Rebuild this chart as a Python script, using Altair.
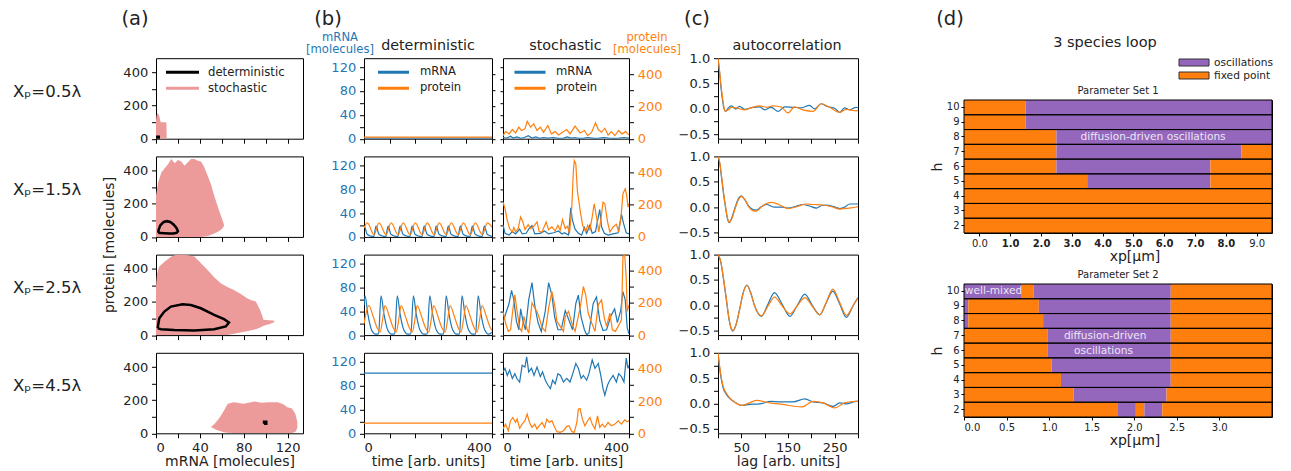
import altair as alt
import pandas as pd

FONT = "DejaVu Sans"
TXT = "#222222"
BLUE = "#1f77b4"
ORANGE = "#ff7f0e"
PURPLE = "#9467bd"
PINK = "#ec9a9a"
ANNO = "#ece6f4"

# ------------------------------------------------------------------ data
row_labels = ["Xₚ=0.5λ", "Xₚ=1.5λ", "Xₚ=2.5λ", "Xₚ=4.5λ"]

# (a) stochastic clouds (mRNA, upper protein, lower protein)
cloud1_mrna = [0, 0.5, 1.5, 2.5, 3.5, 4, 4.5, 8, 9.5, 9.7]
cloud1_hi = [110, 140, 155, 145, 125, 105, 100, 100, 98, 20]
cloud1_lo = [0, 0, 0, 0, 0, 0, 0, 0, 0, 0]
cloud2_mrna = [0, 2, 5, 8, 11, 14, 17, 20, 23, 26, 29, 32, 35, 38, 41, 44, 47, 50, 53, 56, 59, 61, 62]
cloud2_hi = [250, 330, 390, 415, 440, 470, 445, 465, 455, 430, 450, 470, 470, 460, 455, 420, 370, 320, 250, 190, 130, 95, 70]
cloud2_lo = [0, 0, 0, 0, 0, 0, 0, 0, 0, 0, 0, 0, 0, 0, 0, 2, 6, 12, 20, 30, 42, 55, 68]
cloud3_mrna = [0, 1, 3, 8, 14, 20, 25, 29, 35, 41, 47, 53, 59, 65, 71, 77, 83, 87, 91, 95, 98, 103, 107, 108]
cloud3_hi = [300, 373, 414, 444, 474, 488, 485, 482, 474, 434, 393, 350, 313, 290, 273, 250, 222, 210, 203, 150, 92, 90, 88, 82]
cloud3_lo = [0, 0, 0, 0, 0, 0, 0, 0, 0, 0, 0, 0, 0, 0, 8, 16, 24, 30, 36, 46, 56, 66, 76, 80]
cloud4_mrna = [50, 53, 56, 59, 62, 65.4, 71, 80, 89.7, 96, 102, 111, 116, 119.7, 124, 127, 128.8]
cloud4_hi = [38, 55, 78, 105, 138, 178, 188, 178, 192, 185, 188, 188, 175, 158, 150, 118, 70]
cloud4_lo = [38, 28, 18, 12, 6, 3, 2, 2, 2, 2, 2, 2, 2, 2, 2, 8, 30]

# (a) deterministic trajectories
loop1_mrna = [0.3, 2.5, 2.5, 0.3, 0.3]
loop1_prot = [2, 2, 12, 12, 2]
loop2_mrna = [2, 2.5, 4, 7, 10, 13, 16, 18.5, 20, 19, 16, 12, 8, 4, 2]
loop2_prot = [25, 45, 70, 90, 95, 90, 75, 55, 35, 25, 20, 20, 22, 24, 25]
loop3_mrna = [1.5, 3, 7.6, 13.6, 24.2, 31.8, 40.9, 53, 62, 66.5, 63.6, 53, 34.8, 16.7, 4.5, 1.5]
loop3_prot = [42, 102, 142, 172, 186, 182, 162, 122, 96, 76, 52, 36, 28, 31, 36, 42]
loop4_mrna = [98.5, 100.5, 100.5, 98.5, 98.5]
loop4_prot = [58, 58, 70, 70, 58]

# (b) deterministic time series
det1_t = [0, 500]
det1_mrna = [1, 1]
det1_prot = [10, 10]
det2_tm = [0, 1, 13, 38, 47, 59, 85, 94, 106, 132, 141, 153, 179, 188, 200, 226, 235, 247, 273, 282,
           294, 320, 329, 341, 367, 376, 388, 414, 423, 435, 461, 470, 482, 500]
det2_mrna = [16, 18, 4, 0.5, 18, 4, 0.5, 18, 4, 0.5, 18, 4, 0.5, 18, 4, 0.5, 18, 4, 0.5, 18,
             4, 0.5, 18, 4, 0.5, 18, 4, 0.5, 18, 4, 0.5, 18, 4, 1]
det2_tp = [0, 13, 39, 59, 86, 106, 133, 153, 180, 200, 227, 247, 274, 294, 321, 341, 368, 388, 415, 435, 462, 482, 500]
det2_prot = [55, 87, 14, 87, 14, 87, 14, 87, 14, 87, 14, 87, 14, 87, 14, 87, 14, 87, 14, 87, 14, 87, 60]
det3_tm = [0, 4, 15, 30, 45, 57, 66.5, 78, 93, 108, 120, 130, 141, 156, 171, 183, 193, 204, 219, 234,
           247, 257, 268, 283, 298, 311, 321, 332, 347, 362, 373, 383, 394, 409, 424, 436, 446, 457, 472, 487, 500]
det3_mrna = [50, 66, 35, 8, 1.5, 2, 66, 35, 8, 1.5, 2, 66, 35, 8, 1.5, 2, 66, 35, 8, 1.5,
             2, 66, 35, 8, 1.5, 2, 66, 35, 8, 1.5, 2, 66, 35, 8, 1.5, 2, 66, 35, 8, 1.5, 5]
det3_tp = [0, 10, 19, 35, 50, 63, 73, 82, 98, 113, 126, 136, 145, 161, 176, 189, 199, 208, 224, 239,
           253, 263, 272, 288, 303, 317, 327, 336, 352, 367, 379, 389, 398, 414, 429, 442, 452, 461, 477, 492, 500]
det3_prot = [70, 150, 184, 120, 50, 19, 100, 184, 120, 50, 19, 100, 184, 120, 50, 19, 100, 184, 120, 50,
             19, 100, 184, 120, 50, 19, 100, 184, 120, 50, 19, 100, 184, 120, 50, 19, 100, 184, 120, 50, 30]
det4_t = [0, 500]
det4_mrna = [101, 101]
det4_prot = [63, 63]

# (b) stochastic time series
sto1_tm = [0, 15, 30, 40, 55, 70, 85, 100, 115, 130, 145, 160, 180, 200, 220, 240, 255, 270, 285, 300,
           320, 340, 360, 380, 400, 420, 440, 460, 480, 500]
sto1_mrna = [2, 1, 4, 1, 3, 0.5, 2, 5, 1, 3, 0.5, 2, 1, 2, 0.5, 1, 3, 1, 2, 0.5,
             1, 2, 0.5, 1, 2, 1, 0.5, 1, 2, 1]
sto1_tp = [0, 10, 24, 37, 50, 63, 73, 87, 96, 109, 122, 135, 148, 161, 178, 192, 207, 220, 236, 253,
           266, 286, 306, 323, 336, 352, 367, 378, 391, 404, 417, 430, 444, 459, 472, 487, 500]
sto1_prot = [19, 44, 30, 57, 36, 72, 51, 61, 108, 72, 93, 51, 72, 40, 82, 30, 44, 23, 40, 57,
             30, 78, 36, 51, 19, 40, 99, 57, 40, 65, 23, 44, 19, 51, 30, 44, 23]
sto2_tm = [0, 8, 24, 37, 50, 66, 76, 92, 105, 115, 126, 148, 165, 181, 201, 220, 234, 244, 260, 269,
           275, 286, 299, 312, 323, 332, 345, 354, 367, 384, 391, 402, 417, 437, 457, 470, 478, 489, 500]
sto2_mrna = [20, 6, 3, 9, 5, 13, 5, 6, 15, 19, 5, 6, 10, 5, 7, 10, 5, 7, 3, 49,
             29, 13, 6, 3, 16, 6, 20, 6, 9, 46, 17, 6, 3, 5, 7, 38, 23, 7, 5]
sto2_tp = [0, 8, 17, 26, 37, 43, 50, 60, 70, 79, 87, 100, 109, 122, 135, 144, 155, 171, 181, 194,
           207, 218, 227, 236, 247, 256, 264, 273, 279, 283, 289, 295, 306, 316, 328, 336, 345, 354, 362, 371,
           380, 388, 397, 404, 415, 424, 437, 450, 459, 467, 476, 485, 491, 496, 500]
sto2_prot = [216, 175, 103, 52, 31, 58, 31, 52, 124, 93, 45, 76, 52, 66, 93, 31, 31, 93, 45, 62,
             37, 72, 41, 107, 52, 66, 21, 185, 402, 474, 453, 288, 165, 72, 31, 72, 45, 124, 206, 124,
             31, 103, 216, 206, 93, 31, 62, 78, 31, 103, 268, 299, 258, 185, 206]
sto3_tm = [0, 10, 24, 34, 43, 53, 63, 70, 79, 89, 102, 115, 126, 139, 152, 168, 181, 194, 205, 218,
           231, 247, 260, 276, 289, 299, 310, 323, 332, 341, 358, 371, 384, 397, 411, 428, 443, 454, 467, 476,
           485, 493, 500]
sto3_mrna = [21, 35, 53, 75, 59, 24, 9, 44, 24, 9, 59, 88, 50, 21, 6, 41, 88, 67, 30, 9,
             9, 41, 27, 9, 53, 67, 30, 9, 0.6, 3.5, 53, 64, 24, 7.5, 9, 32, 44, 21, 41, 73,
             59, 12, 2]
sto3_tp = [0, 10, 21, 30, 39, 47, 56, 66, 74, 83, 92, 102, 115, 126, 135, 144, 155, 168, 181, 194,
           205, 214, 227, 240, 247, 260, 273, 286, 306, 319, 328, 338, 352, 365, 378, 391, 402, 411, 424, 434,
           446, 457, 470, 476, 483, 489, 493, 500]
sto3_prot = [147, 75, 23, 33, 157, 250, 147, 43, 23, 116, 54, 12, 199, 168, 147, 106, 48, 23, 168, 271,
             188, 85, 54, 23, 116, 147, 75, 23, 168, 302, 250, 137, 75, 23, 188, 219, 106, 54, 137, 33,
             23, 54, 95, 488, 499, 354, 147, 188]
sto4_tm = [0, 8, 17, 26, 37, 47, 56, 66, 76, 87, 94, 102, 113, 123, 135, 148, 157, 168, 178, 188,
           197, 207, 218, 228, 240, 253, 266, 279, 289, 299, 310, 319, 332, 341, 354, 365, 378, 388, 397, 404,
           415, 424, 437, 450, 459, 470, 480, 489, 496, 500]
sto4_mrna = [103, 109, 97, 106, 92, 100, 91, 86, 114, 111, 128, 103, 109, 97, 111, 95, 103, 89, 81, 75,
             89, 83, 100, 97, 86, 92, 86, 103, 117, 109, 92, 97, 89, 100, 123, 109, 117, 97, 75, 64,
             81, 89, 97, 86, 100, 95, 86, 126, 109, 114]
sto4_tp = [0, 10, 21, 30, 39, 50, 56, 66, 76, 87, 96, 105, 115, 126, 135, 144, 155, 165, 174, 184,
           194, 205, 214, 227, 240, 253, 262, 273, 283, 293, 299, 306, 315, 325, 336, 345, 354, 365, 375, 384,
           394, 404, 417, 430, 444, 457, 470, 483, 493, 500]
sto4_prot = [27, 57, 16, 78, 98, 67, 88, 31, 57, 78, 119, 67, 37, 57, 27, 47, 67, 37, 88, 67,
             78, 37, 10, 6, 16, 43, 47, 10, 6, 67, 149, 153, 88, 47, 78, 98, 57, 27, 108, 37,
             57, 37, 67, 47, 57, 78, 57, 84, 72, 78]

# (c) autocorrelation
ac1_lag_m = [0, 3, 6, 10, 13, 16, 22, 29, 38, 46, 57, 75, 89, 100, 114, 129, 143, 161, 179, 196,
             207, 221, 236, 250, 261, 271, 282, 296, 300]
ac1_m = [1, 0.75, 0.45, 0.15, 0, -0.05, 0.02, 0.06, -0.005, 0.05, -0.01, 0.03, 0.04, -0.02, 0.03, -0.05, 0.04, 0.03, 0.02, 0.07,
         0, 0.1, 0.04, 0.01, -0.07, 0.02, -0.02, 0.03, 0.02]
ac1_lag_p = [0, 3, 6, 10, 13, 16, 22, 29, 43, 57, 71, 89, 104, 118, 136, 150, 164, 182, 204, 221,
             239, 261, 275, 296, 300]
ac1_p = [1, 0.78, 0.5, 0.2, 0.02, -0.05, -0.02, 0.03, 0.01, -0.02, 0.02, 0.06, 0.03, 0.06, 0.03, -0.08, 0.04, -0.02, -0.05, 0.1,
         0.03, -0.07, -0.01, -0.04, -0.03]
ac2_lag_m = [0, 4, 8, 12, 16, 20, 24, 30, 37, 44, 50, 57, 65, 73, 82, 92, 104, 120, 135, 150,
             166, 182, 196, 211, 222, 232, 247, 261, 272, 282, 296, 300]
ac2_m = [1, 0.85, 0.55, 0.25, 0, -0.22, -0.31, -0.2, 0, 0.17, 0.22, 0.15, 0.03, -0.04, -0.06, 0, 0.05, 0, 0, -0.02,
         0.01, 0.05, 0.02, -0.02, 0.03, 0.04, 0.01, -0.03, 0, 0.06, 0.06, 0.06]
ac2_lag_p = [0, 4, 8, 12, 16, 20, 24, 30, 37, 44, 51, 58, 66, 74, 82, 95, 114, 130, 150, 170,
             189, 205, 225, 245, 261, 280, 296, 300]
ac2_p = [1, 0.87, 0.58, 0.28, 0.02, -0.2, -0.3, -0.22, -0.02, 0.15, 0.21, 0.14, 0, -0.07, -0.08, 0.02, 0.09, 0.05, -0.03, 0.01,
         0.06, 0.05, 0.04, 0, -0.04, -0.02, 0, 0.01]
ac3_lag = [0, 6, 12, 18, 24, 28, 32, 38, 47, 54, 62, 70, 78, 93, 107, 121, 138, 154, 170, 186,
           202, 218, 232, 246, 261, 275, 290, 300]
ac3_m = [1, 0.85, 0.5, 0.1, -0.3, -0.46, -0.51, -0.4, -0.05, 0.25, 0.4, 0.25, 0, -0.22, 0.02, 0.25, 0.01, -0.22, 0, 0.22,
         0, -0.19, 0.05, 0.28, 0.02, -0.24, 0, 0.15]
ac3_p = [1, 0.86, 0.52, 0.12, -0.28, -0.45, -0.5, -0.4, -0.06, 0.24, 0.39, 0.24, 0, -0.21, -0.02, 0.16, -0.02, -0.17, -0.01, 0.15,
         -0.02, -0.19, 0.06, 0.32, 0.05, -0.2, 0, 0.15]
ac4_lag_m = [0, 5, 11, 18, 25, 35, 50, 68, 89, 114, 132, 161, 186, 204, 225, 246, 261, 275, 296, 300]
ac4_m = [1, 0.6, 0.31, 0.18, 0.1, 0.03, -0.04, -0.02, -0.01, 0.04, 0.03, 0.03, 0.09, 0.03, 0.01, -0.06, 0.01, -0.01, 0.04, 0.04]
ac4_lag_p = [0, 5, 11, 18, 25, 35, 50, 65, 82, 111, 139, 179, 204, 225, 250, 271, 296, 300]
ac4_p = [1, 0.63, 0.34, 0.2, 0.11, 0.03, -0.04, 0, 0.06, 0.01, -0.02, -0.07, 0.04, 0.01, -0.09, 0.01, 0.04, 0.04]

# (d) phase diagrams: row h, segment start, segment end, state
states = ["oscillations", "fixed point"]
ps1_h = [10, 10, 9, 9, 8, 8, 7, 7, 7, 6, 6, 6, 5, 5, 5, 4, 3, 2]
ps1_x0 = [-0.5, 1.5, -0.5, 1.5, -0.5, 2.5, -0.5, 2.5, 8.5, -0.5, 2.5, 7.5, -0.5, 3.5, 7.5, -0.5, -0.5, -0.5]
ps1_x1 = [1.5, 9.5, 1.5, 9.5, 2.5, 9.5, 2.5, 8.5, 9.5, 2.5, 7.5, 9.5, 3.5, 7.5, 9.5, 9.5, 9.5, 9.5]
ps1_state = ["fixed point", "oscillations", "fixed point", "oscillations", "fixed point", "oscillations",
             "fixed point", "oscillations", "fixed point", "fixed point", "oscillations", "fixed point",
             "fixed point", "oscillations", "fixed point", "fixed point", "fixed point", "fixed point"]
ps1_ticks = [0, 1, 2, 3, 4, 5, 6, 7, 8, 9]
ps1_range = [-0.5, 9.5]

ps2_h = [10, 10, 10, 10, 9, 9, 9, 9, 8, 8, 8, 8, 7, 7, 7, 6, 6, 6, 5, 5, 5, 4, 4, 4, 3, 3, 3, 2, 2, 2, 2, 2]
ps2_x0 = [0, 0.67, 0.82, 2.43, 0, 0.05, 0.88, 2.43, 0, 0.05, 0.93, 2.43, 0, 0.98, 2.43, 0, 0.98, 2.43,
          0, 1.03, 2.43, 0, 1.14, 2.43, 0, 1.29, 2.38, 0, 1.81, 2.02, 2.12, 2.33]
ps2_x1 = [0.67, 0.82, 2.43, 3.62, 0.05, 0.88, 2.43, 3.62, 0.05, 0.93, 2.43, 3.62, 0.98, 2.43, 3.62, 0.98, 2.43, 3.62,
          1.03, 2.43, 3.62, 1.14, 2.43, 3.62, 1.29, 2.38, 3.62, 1.81, 2.02, 2.12, 2.33, 3.62]
ps2_state = ["oscillations", "fixed point", "oscillations", "fixed point",
             "oscillations", "fixed point", "oscillations", "fixed point",
             "oscillations", "fixed point", "oscillations", "fixed point",
             "fixed point", "oscillations", "fixed point",
             "fixed point", "oscillations", "fixed point",
             "fixed point", "oscillations", "fixed point",
             "fixed point", "oscillations", "fixed point",
             "fixed point", "oscillations", "fixed point",
             "fixed point", "oscillations", "fixed point", "oscillations", "fixed point"]
ps2_ticks = [0, 0.5, 1.0, 1.5, 2.0, 2.5, 3.0]
ps2_range = [0, 3.62]

ps1_notes = [("diffusion-driven oscillations", 5.64, 8, "center")]
ps2_notes = [("well-mixed", 0.01, 10, "left"), ("diffusion-driven", 1.66, 7, "center"), ("oscillations", 1.64, 6, "center")]

# ------------------------------------------------------------------ layout
PW_A, PW_B, PW_S, PW_C, PW_D = 147, 128, 126, 140, 308
PH, VS, HEAD_H = 80.5, 17.2, 31
HEAT_H, HEAD_D, VS_D = 133, 39, 51
W0 = 112
# column origins (from the chart's left edge) reached through spacer widths
GAPS = [147, 208, 139, 215, 246]

one = pd.DataFrame({"k": [0]})
NOSTROKE = alt.ViewBackground(stroke="transparent")


def txt(s, x, y, size, color=TXT, align="center", baseline="alphabetic", angle=None):
    kw = dict(text=s, fontSize=size, color=color, align=align, baseline=baseline, font=FONT)
    if angle is not None:
        kw["angle"] = angle
    return alt.Chart(one).mark_text(**kw).encode(x=alt.value(x), y=alt.value(y))


def header(width, height, items):
    return alt.layer(*items).properties(width=width, height=height, view=NOSTROKE)


def spacer(w, h=30):
    return alt.Chart(one).mark_text(text="").properties(width=w, height=h, view=NOSTROKE)


def line_legend(x, y, offset, size, fs):
    return alt.Legend(orient="none", legendX=x, legendY=y, title=None, symbolType="stroke", symbolSize=size,
                      symbolStrokeWidth=3, labelFontSize=fs, labelFont=FONT, labelColor=TXT, labelOffset=offset,
                      clipHeight=15.6, rowPadding=0, padding=0)


# ---------------- label column
lab_df = pd.DataFrame({"row": [0, 1, 2, 3], "label": row_labels})
H_L = 4 * PH + 3 * VS
lab_text = alt.Chart(lab_df).mark_text(align="left", baseline="middle", fontSize=16.5, dy=-6, color=TXT).encode(
    x=alt.value(4),
    y=alt.Y("row:O", axis=None, scale=alt.Scale(type="point", padding=(PH / 2) / (PH + VS))),
    text="label:N")
prot_title = txt("protein [molecules]", 101, H_L / 2, 14, baseline="middle", angle=270)
labels_chart = alt.layer(lab_text, prot_title).properties(width=W0, height=H_L, view=NOSTROKE)
col_label = alt.vconcat(spacer(W0, HEAD_H), labels_chart, spacing=VS, bounds="flush")

# ---------------- (a)
XA = alt.Scale(domain=[0, 134], nice=False, zero=False)
YA = alt.Scale(domain=[0, 486], nice=False, zero=False)
clouds = [(cloud1_mrna, cloud1_hi, cloud1_lo), (cloud2_mrna, cloud2_hi, cloud2_lo),
          (cloud3_mrna, cloud3_hi, cloud3_lo), (cloud4_mrna, cloud4_hi, cloud4_lo)]
loops = [(loop1_mrna, loop1_prot), (loop2_mrna, loop2_prot), (loop3_mrna, loop3_prot), (loop4_mrna, loop4_prot)]


def axis_xa(last):
    return alt.Axis(values=[0, 20, 40, 60, 80, 100, 120], labelExpr="datum.value % 40 == 0 ? datum.label : ''",
                    labels=last, title="mRNA [molecules]" if last else None, titlePadding=0)


def axis_ya():
    return alt.Axis(values=[0, 100, 200, 300, 400], labelExpr="datum.value % 200 == 0 ? datum.label : ''", title=None)


def panel_a(r):
    m, hi, lo = clouds[r]
    cdf = pd.DataFrame({"mrna": m, "hi": hi, "lo": lo})
    lm, lp = loops[r]
    ldf = pd.DataFrame({"mrna": lm, "protein": lp, "i": list(range(len(lm))), "kind": ["deterministic"] * len(lm)})
    leg = line_legend(8.5, 6.2, 7.5, 1089, 11.7) if r == 0 else None
    area = alt.Chart(cdf).mark_area(color=PINK, clip=True).encode(
        x=alt.X("mrna:Q", scale=XA, axis=axis_xa(r == 3)),
        y=alt.Y("hi:Q", scale=YA, axis=axis_ya()),
        y2="lo:Q")
    loop = alt.Chart(ldf).mark_line(strokeWidth=2.5, clip=True).encode(
        x=alt.X("mrna:Q", scale=XA, axis=axis_xa(r == 3)),
        y=alt.Y("protein:Q", scale=YA, axis=axis_ya()),
        order=alt.Order("i:Q"),
        color=alt.Color("kind:N", scale=alt.Scale(domain=["deterministic", "stochastic"], range=["black", PINK]),
                        legend=leg))
    return alt.layer(area, loop).properties(width=PW_A, height=PH)


head_a = header(PW_A, HEAD_H, [txt("(a)", -21, 0, 19.5, baseline="top")])
col_a = alt.vconcat(head_a, *[panel_a(r) for r in range(4)], spacing=VS, bounds="flush").resolve_legend(
    color="independent")

# ---------------- (b)
XB = alt.Scale(domain=[0, 500], nice=False, zero=False)
YM = alt.Scale(domain=[0, 135], nice=False, zero=False)
YP = alt.Scale(domain=[0, 500], nice=False, zero=False)
MV = [0, 20, 40, 60, 80, 100, 120]
PV = [0, 100, 200, 300, 400]


def axis_xb(last):
    return alt.Axis(values=[0, 100, 200, 300, 400, 500],
                    labelExpr="datum.value == 0 || datum.value == 400 ? datum.label : ''",
                    labelAlign="left", labels=last, title="time [arb. units]" if last else None, titlePadding=0)


def panel_b(r, tm, vm, tp, vp, stoch):
    dm = pd.DataFrame({"t": tm, "v": vm, "series": ["mRNA"] * len(tm)})
    dp = pd.DataFrame({"t": tp, "v": vp, "series": ["protein"] * len(tp)})
    if r == 0:
        leg = line_legend(10 if stoch else 12.5, 6.2, 9 if stoch else 9.5, 961, 11.6)
    else:
        leg = None
    col = alt.Color("series:N", scale=alt.Scale(domain=["mRNA", "protein"], range=[BLUE, ORANGE]), legend=leg)
    interp = "linear" if stoch else "monotone"
    if stoch:
        ax_m = alt.Axis(values=MV, labels=False, title=None, orient="left", tickSize=3)
        ax_p = alt.Axis(values=PV, labelExpr="datum.value % 200 == 0 ? datum.label : ''", labelColor=ORANGE,
                        title=None, orient="right")
    else:
        ax_m = alt.Axis(values=MV, labelExpr="datum.value % 40 == 0 ? datum.label : ''", labelColor=BLUE,
                        title=None, orient="left")
        ax_p = alt.Axis(values=PV, labels=False, title=None, orient="right", tickSize=3)
    lm = alt.Chart(dm).mark_line(strokeWidth=1.2, interpolate=interp, clip=True).encode(
        x=alt.X("t:Q", scale=XB, axis=axis_xb(r == 3)), y=alt.Y("v:Q", scale=YM, axis=ax_m), color=col)
    lp = alt.Chart(dp).mark_line(strokeWidth=1.2, interpolate=interp, clip=True).encode(
        x=alt.X("t:Q", scale=XB, axis=axis_xb(r == 3)), y=alt.Y("v:Q", scale=YP, axis=ax_p), color=col)
    return alt.layer(lm, lp).resolve_scale(y="independent").properties(width=PW_S if stoch else PW_B, height=PH)


det = [(det1_t, det1_mrna, det1_t, det1_prot), (det2_tm, det2_mrna, det2_tp, det2_prot),
       (det3_tm, det3_mrna, det3_tp, det3_prot), (det4_t, det4_mrna, det4_t, det4_prot)]
sto = [(sto1_tm, sto1_mrna, sto1_tp, sto1_prot), (sto2_tm, sto2_mrna, sto2_tp, sto2_prot),
       (sto3_tm, sto3_mrna, sto3_tp, sto3_prot), (sto4_tm, sto4_mrna, sto4_tp, sto4_prot)]

head_bd = header(PW_B, HEAD_H, [
    txt("(b)", -36, 0, 19.5, baseline="top"),
    txt("mRNA", -24, 30.5, 11.6, color=BLUE),
    txt("[molecules]", -24, 42.5, 11.6, color=BLUE),
    txt("deterministic", 64, 40.3, 14.3)])
head_bs = header(PW_S, HEAD_H, [
    txt("stochastic", 62.5, 40.3, 14.3),
    txt("protein", 144, 30.5, 11.6, color=ORANGE),
    txt("[molecules]", 144, 42.5, 11.6, color=ORANGE)])
col_bd = alt.vconcat(head_bd, *[panel_b(r, *det[r], False) for r in range(4)], spacing=VS,
                     bounds="flush").resolve_legend(color="independent")
col_bs = alt.vconcat(head_bs, *[panel_b(r, *sto[r], True) for r in range(4)], spacing=VS,
                     bounds="flush").resolve_legend(color="independent")

# ---------------- (c)
XC = alt.Scale(domain=[0, 300], nice=False, zero=False)
YC = alt.Scale(domain=[-0.59, 1.0], nice=False, zero=False)
acs = [(ac1_lag_m, ac1_m, ac1_lag_p, ac1_p), (ac2_lag_m, ac2_m, ac2_lag_p, ac2_p),
       (ac3_lag, ac3_m, ac3_lag, ac3_p), (ac4_lag_m, ac4_m, ac4_lag_p, ac4_p)]


def panel_c(r):
    lm, vm, lpp, vp = acs[r]
    last = r == 3
    ax_x = alt.Axis(values=[0, 50, 100, 150, 200, 250, 300], labelExpr="datum.value % 100 == 50 ? datum.label : ''",
                    labels=last, title="lag [arb. units]" if last else None, titlePadding=0)
    ax_y = alt.Axis(values=[-0.5, -0.25, 0, 0.25, 0.5, 0.75, 1.0], format=".1f",
                    labelExpr="(datum.value * 4) % 2 == 0 ? datum.label : ''", title=None)
    dm = pd.DataFrame({"lag": lm, "ac": vm})
    dp = pd.DataFrame({"lag": lpp, "ac": vp})
    a = alt.Chart(dm).mark_line(strokeWidth=1.2, interpolate="monotone", color=BLUE, clip=True).encode(
        x=alt.X("lag:Q", scale=XC, axis=ax_x), y=alt.Y("ac:Q", scale=YC, axis=ax_y))
    b = alt.Chart(dp).mark_line(strokeWidth=1.2, interpolate="monotone", color=ORANGE, clip=True).encode(
        x=alt.X("lag:Q", scale=XC, axis=ax_x), y=alt.Y("ac:Q", scale=YC, axis=ax_y))
    return alt.layer(a, b).properties(width=PW_C, height=PH)


head_c = header(PW_C, HEAD_H, [txt("(c)", -21, 0, 19.5, baseline="top"), txt("autocorrelation", 69, 40.3, 14.3)])
col_c = alt.vconcat(head_c, *[panel_c(r) for r in range(4)], spacing=VS, bounds="flush")

# ---------------- (d)
HROWS = [10, 9, 8, 7, 6, 5, 4, 3, 2]


def heat(h, x0, x1, st, rng, ticks, title, notes, bold):
    df = pd.DataFrame({"h": h, "x0": x0, "x1": x1, "state": st})
    X = alt.Scale(domain=rng, nice=False, zero=False)
    Y = alt.Scale(domain=HROWS, paddingInner=0, paddingOuter=0)
    xkw = dict(values=ticks, format=".1f", title="xp[μm]", titleX=170.5, titleAlign="center", labelFontSize=10,
               tickSize=3, labelPadding=2, titleFontSize=14, titlePadding=1)
    if bold:
        xkw["labelFontWeight"] = {"condition": {"test": "datum.value >= 1 && datum.value <= 8", "value": "bold"},
                                  "value": "normal"}
    xaxis = alt.Axis(**xkw)
    yaxis = alt.Axis(title="h", labelFontSize=10, tickSize=3, labelPadding=2, titleFontSize=14, titlePadding=2)
    rect = alt.Chart(df).mark_rect().encode(
        x=alt.X("x0:Q", scale=X, axis=xaxis), x2="x1:Q",
        y=alt.Y("h:O", scale=Y, axis=yaxis),
        color=alt.Color("state:N", scale=alt.Scale(domain=states, range=[PURPLE, ORANGE]), legend=None))
    rows_df = pd.DataFrame({"h": HROWS, "x0": [rng[0]] * 9, "x1": [rng[1]] * 9})
    sep = alt.Chart(rows_df).mark_rect(fillOpacity=0, stroke="black", strokeWidth=1).encode(
        x=alt.X("x0:Q", scale=X, axis=xaxis), x2="x1:Q", y=alt.Y("h:O", scale=Y, axis=yaxis))
    layers = [rect, sep]
    for (s, xv, hv, al) in notes:
        ndf = pd.DataFrame({"x": [xv], "h": [hv], "s": [s]})
        layers.append(alt.Chart(ndf).mark_text(fontSize=10.6, color=ANNO, align=al, baseline="middle").encode(
            x=alt.X("x:Q", scale=X, axis=xaxis), y=alt.Y("h:O", scale=Y, axis=yaxis), text="s:N"))
    return alt.layer(*layers).properties(
        width=PW_D, height=HEAT_H,
        title=alt.TitleParams(title, fontSize=10, font=FONT, fontWeight="normal", color=TXT, offset=4))


leg_df = pd.DataFrame({"item": states})
leg_y = alt.Scale(type="point", domain=states, range=[52.5, 65.5], padding=0)
leg_box = alt.Chart(leg_df).mark_point(shape="M-1,-0.233L1,-0.233L1,0.233L-1,0.233Z", size=900, filled=True,
                                       stroke="#333333", strokeWidth=1, opacity=1).encode(
    x=alt.value(230), y=alt.Y("item:N", scale=leg_y, axis=None),
    fill=alt.Fill("item:N", scale=alt.Scale(domain=states, range=[PURPLE, ORANGE]), legend=None))
leg_lab = alt.Chart(leg_df).mark_text(align="left", baseline="middle", fontSize=10.6, color=TXT).encode(
    x=alt.value(250), y=alt.Y("item:N", scale=leg_y, axis=None), text="item:N")
head_d = header(PW_D, HEAD_D, [txt("(d)", -14, 0, 19.5, baseline="top"), txt("3 species loop", 141, 37, 14.5),
                               leg_box, leg_lab])
heat1 = heat(ps1_h, ps1_x0, ps1_x1, ps1_state, ps1_range, ps1_ticks, "Parameter Set 1", ps1_notes, True)
heat2 = heat(ps2_h, ps2_x0, ps2_x1, ps2_state, ps2_range, ps2_ticks, "Parameter Set 2", ps2_notes, False)
col_d = alt.vconcat(head_d, heat1, heat2, spacing=VS_D, bounds="flush")

# ---------------- assemble (flush: each column starts where the spacers before it end)
cols = [col_label, col_a, col_bd, col_bs, col_c, col_d]
parts = [cols[0]]
for g, c in zip(GAPS, cols[1:]):
    parts.append(spacer(g))
    parts.append(c)

chart = alt.hconcat(*parts, spacing=0, bounds="flush").resolve_scale(
    color="independent", fill="independent").resolve_legend(
    color="independent", fill="independent").properties(padding=0).configure(font=FONT).configure_view(
    stroke="black", strokeWidth=1).configure_axis(
    labelFont=FONT, titleFont=FONT, labelColor=TXT, titleColor=TXT, labelFontSize=13, titleFontSize=14,
    titleFontWeight="normal", tickColor="black", tickSize=4.5, tickWidth=1, labelPadding=3.8,
    domain=False, grid=False)

chart.save("out.html", embed_options={"renderer": "svg", "actions": False})
